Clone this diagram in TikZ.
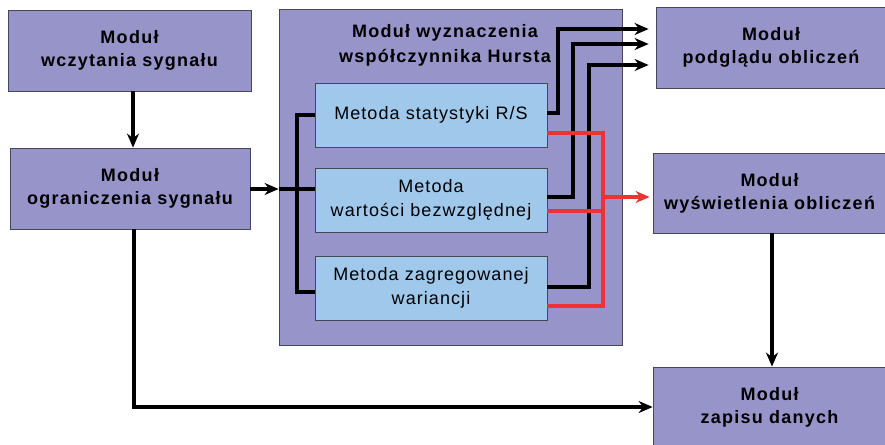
\documentclass[tikz,border=0pt]{standalone}
\usepackage{fontspec}
\setmainfont{Liberation Sans}
\usetikzlibrary{arrows.meta}
\definecolor{modfill}{RGB}{150,148,200}
\definecolor{metfill}{RGB}{160,200,234}
\definecolor{bord}{RGB}{70,70,85}
\definecolor{redline}{RGB}{234,52,52}
\begin{document}
\begin{tikzpicture}[x=1pt,y=-1pt,
 txt/.style={align=center, inner sep=0,
   font=\bfseries\fontsize{18}{23}\selectfont\addfontfeatures{LetterSpace=7}},
 mod/.style={txt, draw=bord, line width=0.8pt, fill=modfill},
 met/.style={draw=bord, line width=0.8pt, fill=metfill, align=center, inner sep=0,
   minimum width=232, minimum height=64,
   font=\fontsize{18}{24}\selectfont\addfontfeatures{LetterSpace=6}},
 blk/.style={line width=3.4pt, black},
 arr/.style={blk, -{Stealth[length=14pt,width=12pt]}},
 redl/.style={line width=3.4pt, redline},
]
\useasboundingbox (0,0) rectangle (885,444);
\node[mod, minimum width=243, minimum height=81] (wcz) at (129.5,50.5) {Moduł\\wczytania sygnału};
\node[mod, minimum width=240, minimum height=81] (ogr) at (130,188.5) {Moduł\\ograniczenia sygnału};
\node[mod, minimum width=343, minimum height=336] (hurst) at (450.5,177) {};
\node[txt, font=\bfseries\fontsize{18}{25}\selectfont\addfontfeatures{LetterSpace=7}] (htitle) at (445,45) {Moduł wyznaczenia\\współczynnika Hursta};
\node[met] (rs) at (431,115) {Metoda statystyki R/S};
\node[met] (bez) at (431,200) {Metoda\\wartości bezwzględnej};
\node[met] (zag) at (431,288) {Metoda zagregowanej\\wariancji};
\node[mod, minimum width=230, minimum height=81] (pod) at (771,47.5) {Moduł\\podglądu obliczeń};
\node[mod, minimum width=233, minimum height=80] (wys) at (769.5,193) {Moduł\\wyświetlenia obliczeń};
\node[mod, minimum width=233, minimum height=81] (zap) at (769.5,407.5) {Moduł\\zapisu danych};

\draw[arr] (wcz.south -| 133,0) -- (ogr.north -| 133,0);
\draw[arr] (ogr.east |- 0,189) -- (hurst.west |- 0,189);
\draw[blk] (hurst.west |- 0,189) -- (297,189);
\draw[blk] (rs.west) -- (297,115) -- (297,292) -- (zag.west |- 0,292);
\draw[blk] (297,189) -- (bez.west |- 0,189);

\draw[arr, shorten >=7pt] (rs.east |- 0,113) -- (558,113) -- (558,29) -- (pod.west |- 0,29);
\draw[arr, shorten >=7pt] (bez.east |- 0,197) -- (573,197) -- (573,44) -- (pod.west |- 0,44);
\draw[arr, shorten >=7pt] (zag.east |- 0,287) -- (589,287) -- (589,65) -- (pod.west |- 0,65);

\draw[redl] (rs.east |- 0,133) -- (603,133) -- (603,306) -- (zag.east |- 0,306);
\draw[redl] (bez.east |- 0,211) -- (603,211);
\draw[redl, -{Stealth[length=14pt,width=12pt]}, shorten >=3pt] (603,197) -- (wys.west |- 0,197);

\draw[arr] (ogr.south -| 134,0) |- (zap.west |- 0,407);
\draw[arr] (wys.south -| 772,0) -- (zap.north -| 772,0);
\end{tikzpicture}
\end{document}
